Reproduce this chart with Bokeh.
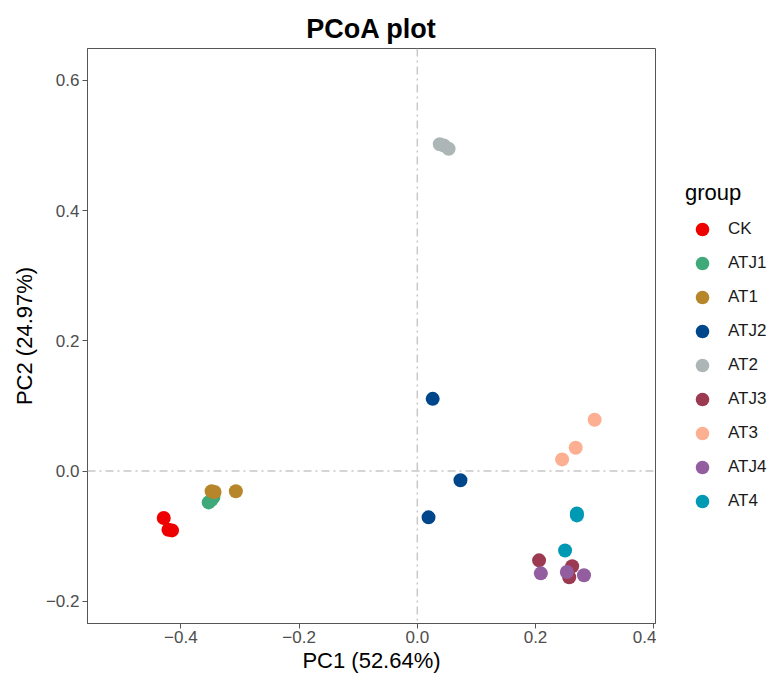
from bokeh.plotting import figure
from bokeh.layouts import row
from bokeh.models import ColumnDataSource, Span, Legend, LegendItem, FixedTicker, Range1d
from bokeh.embed import file_html
from bokeh.resources import INLINE

groups = ["CK", "ATJ1", "AT1", "ATJ2", "AT2", "ATJ3", "AT3", "ATJ4", "AT4"]
colors = ["#EE0000", "#3FA97A", "#B8862A", "#00468B", "#ADB6B6",
          "#9B3A50", "#FDAF91", "#925E9F", "#0099B4"]

pc1_CK = [-0.429, -0.421, -0.415]
pc2_CK = [-0.072, -0.090, -0.091]
pc1_ATJ1 = [-0.353, -0.348, -0.345]
pc2_ATJ1 = [-0.048, -0.044, -0.040]
pc1_AT1 = [-0.348, -0.343, -0.307]
pc2_AT1 = [-0.031, -0.032, -0.031]
pc1_ATJ2 = [0.026, 0.073, 0.019]
pc2_ATJ2 = [0.111, -0.014, -0.071]
pc1_AT2 = [0.038, 0.045, 0.053]
pc2_AT2 = [0.502, 0.500, 0.495]
pc1_ATJ3 = [0.206, 0.262, 0.257]
pc2_ATJ3 = [-0.137, -0.146, -0.163]
pc1_AT3 = [0.300, 0.268, 0.245]
pc2_AT3 = [0.079, 0.036, 0.018]
pc1_ATJ4 = [0.209, 0.253, 0.282]
pc2_ATJ4 = [-0.157, -0.155, -0.160]
pc1_AT4 = [0.270, 0.270, 0.250]
pc2_AT4 = [-0.065, -0.068, -0.122]

pc1 = [pc1_CK, pc1_ATJ1, pc1_AT1, pc1_ATJ2, pc1_AT2, pc1_ATJ3, pc1_AT3, pc1_ATJ4, pc1_AT4]
pc2 = [pc2_CK, pc2_ATJ1, pc2_AT1, pc2_ATJ2, pc2_AT2, pc2_ATJ3, pc2_AT3, pc2_ATJ4, pc2_AT4]

x_ticks = [-0.4, -0.2, 0.0, 0.2, 0.4]
x_tick_labels = ["\u22120.4", "\u22120.2", "0.0", "0.2", "0.4"]
y_ticks = [-0.2, 0.0, 0.2, 0.4, 0.6]
y_tick_labels = ["\u22120.2", "0.0", "0.2", "0.4", "0.6"]

FONT = "Liberation Sans"

p = figure(width=656, height=675, output_backend="svg", toolbar_location=None,
           x_range=Range1d(-0.558, 0.403), y_range=Range1d(-0.234, 0.649),
           min_border_left=87, min_border_right=1, min_border_top=48, min_border_bottom=52,
           title="PCoA plot")

p.title.text_font = FONT
p.title.text_font_size = "27px"
p.title.text_font_style = "bold"
p.title.align = "center"
p.title.text_color = "#000000"

p.grid.visible = False
p.outline_line_color = "#555555"
p.outline_line_width = 1

for ax in (p.xaxis[0], p.yaxis[0]):
    ax.axis_line_color = "#555555"
    ax.major_tick_line_color = "#555555"
    ax.major_tick_out = 5
    ax.major_tick_in = 0
    ax.minor_tick_line_color = None
    ax.major_label_text_font = FONT
    ax.major_label_text_font_size = "17px"
    ax.major_label_text_color = "#4D4D4D"
    ax.axis_label_text_font = FONT
    ax.axis_label_text_font_size = "22px"
    ax.axis_label_text_font_style = "normal"
    ax.axis_label_text_color = "#000000"

p.xaxis[0].ticker = FixedTicker(ticks=x_ticks)
p.yaxis[0].ticker = FixedTicker(ticks=y_ticks)
p.xaxis[0].major_label_overrides = dict(zip(x_ticks, x_tick_labels))
p.yaxis[0].major_label_overrides = dict(zip(y_ticks, y_tick_labels))
p.xaxis[0].axis_label = "PC1 (52.64%)"
p.yaxis[0].axis_label = "PC2 (24.97%)"
p.xaxis[0].major_label_standoff = 2
p.yaxis[0].major_label_standoff = 3
p.xaxis[0].axis_label_standoff = 2
p.yaxis[0].axis_label_standoff = 6

p.add_layout(Span(location=0, dimension="height", line_color="#C8C8C8",
                  line_width=1.5, line_dash="8 4 2 4"))
p.add_layout(Span(location=0, dimension="width", line_color="#C8C8C8",
                  line_width=1.5, line_dash="8 4 2 4"))

for g, c, xs, ys in zip(groups, colors, pc1, pc2):
    src = ColumnDataSource(dict(x=xs, y=ys))
    p.scatter("x", "y", source=src, size=14, fill_color=c, line_color=c, line_width=0)

# legend panel: a bare figure that only shows the legend (its renderers are hidden)
lp = figure(width=115, height=675, output_backend="svg", toolbar_location=None,
            x_axis_type=None, y_axis_type=None, min_border=0,
            x_range=Range1d(0, 1), y_range=Range1d(0, 1))
lp.outline_line_color = None
lp.grid.visible = False

items = []
for g, c, xs, ys in zip(groups, colors, pc1, pc2):
    src = ColumnDataSource(dict(x=xs, y=ys))
    r = lp.scatter("x", "y", source=src, size=14, fill_color=c, line_color=c,
                   line_width=0, visible=False)
    items.append(LegendItem(label=g, renderers=[r]))

legend = Legend(items=items, location=(29, 105), title="group",
                click_policy="none",
                title_text_font=FONT, title_text_font_size="22px",
                title_text_font_style="normal", title_text_color="#000000",
                title_standoff=6,
                label_text_font=FONT, label_text_font_size="17px",
                label_text_color="#1A1A1A", label_standoff=9,
                glyph_width=34, glyph_height=34, label_height=34, spacing=0,
                padding=0, margin=0, border_line_color=None,
                background_fill_alpha=0)
lp.add_layout(legend, "center")

layout = row(p, lp, spacing=0)
open("out.html", "w").write(file_html(layout, INLINE))
